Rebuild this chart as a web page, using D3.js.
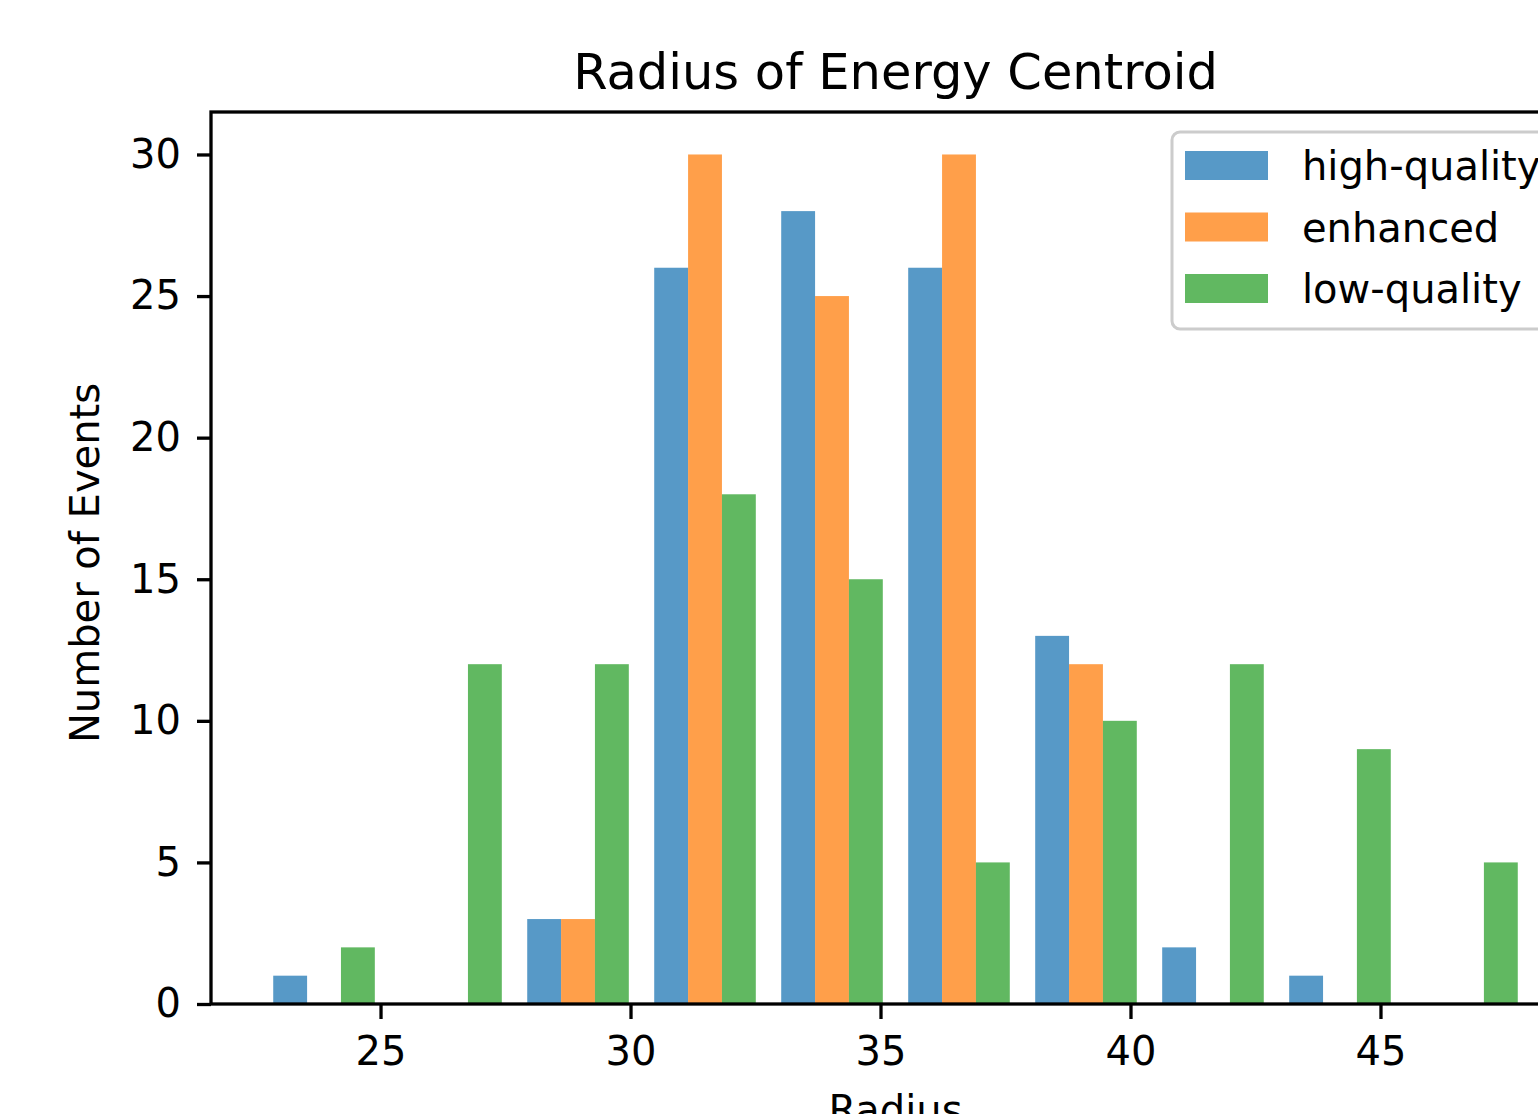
<!DOCTYPE html>
<html lang="en">
<head>
  <meta charset="UTF-8">
  <title>Radius of Energy Centroid</title>
  <script src="https://cdn.jsdelivr.net/npm/d3@7"></script>
  <style>
  body {
    margin: 0;
    padding: 0;
    background: #fff;
    overflow: hidden;
  }
  svg {
    display: block;
    font-family: "DejaVu Sans", sans-serif;
  }
  .axis path, .axis line {
    stroke: #000;
    stroke-width: 3.3px;
  }
  .axis text {
    fill: #000;
    font-family: "DejaVu Sans", sans-serif;
    font-size: 40px;
  }
  </style>
</head>
<body>
  <div id="chart"></div>
<script>
  // histogram bins (Radius) and counts per data set
  var binEdges = [22.6, 25.14, 27.68, 30.22, 32.76, 35.3, 37.84, 40.38, 42.92, 45.46, 48.0];
  var seriesNames = ['high-quality', 'enhanced', 'low-quality'];
  var highQuality = [1, 0, 3, 26, 28, 26, 13, 2, 1, 0];
  var enhanced    = [0, 0, 3, 30, 25, 30, 12, 0, 0, 0];
  var lowQuality  = [2, 12, 12, 18, 15, 5, 10, 12, 9, 5];
  var xTicks = [25, 30, 35, 40, 45];
  var yTicks = [0, 5, 10, 15, 20, 25, 30];

  var width = 1538, height = 1114;
  var mLeft = 211, mTop = 112, mRight = 1580, mBottom = 1004;
  var colors = ['#1f77b4', '#ff7f0e', '#2ca02c'];
  var allCounts = [highQuality, enhanced, lowQuality];

  var svg = d3.select('#chart')
    .append('svg')
    .attr('width', width)
    .attr('height', height);

  // matplotlib-like limits: bar extent plus 5% margin
  var binW = binEdges[1] - binEdges[0];
  var xmin = binEdges[0] + 0.1 * binW, xmax = binEdges[binEdges.length - 1] - 0.1 * binW;
  var pad = (xmax - xmin) * 0.05;
  var xScale = d3.scaleLinear()
    .domain([xmin - pad, xmax + pad])
    .range([mLeft, mRight]);

  var yMax = d3.max(allCounts, function(c){ return d3.max(c); });
  var yScale = d3.scaleLinear()
    .domain([0, yMax * 1.05])
    .range([mBottom, mTop]);

  // bars, 3 side by side in each bin
  var bars = [];
  allCounts.forEach(function(counts, s){
    counts.forEach(function(v, i){
      var w = binEdges[i + 1] - binEdges[i];
      var dw = 0.8 * w / allCounts.length;
      bars.push({ s: s, x0: binEdges[i] + 0.1 * w + s * dw, x1: binEdges[i] + 0.1 * w + (s + 1) * dw, v: v });
    });
  });

  svg.selectAll('.bar')
    .data(bars.filter(function(d){ return d.v > 0; }))
    .enter()
    .append('rect')
    .attr('class', 'bar')
    .attr('x', function(d){ return xScale(d.x0); })
    .attr('width', function(d){ return xScale(d.x1) - xScale(d.x0); })
    .attr('y', function(d){ return yScale(d.v); })
    .attr('height', function(d){ return yScale(0) - yScale(d.v); })
    .attr('fill', function(d){ return colors[d.s]; })
    .attr('fill-opacity', 0.75);

  // axes
  var xAxis = d3.axisBottom(xScale).tickValues(xTicks).tickSize(15).tickPadding(18).tickFormat(d3.format('d'));
  var yAxis = d3.axisLeft(yScale).tickValues(yTicks).tickSize(14).tickPadding(16).tickFormat(d3.format('d'));

  svg.append('g')
    .attr('class', 'axis')
    .attr('transform', 'translate(0,' + mBottom + ')')
    .call(xAxis)
    .call(function(g){ g.select('.domain').remove(); });

  svg.append('g')
    .attr('class', 'axis')
    .attr('transform', 'translate(' + mLeft + ',0)')
    .call(yAxis)
    .call(function(g){ g.select('.domain').remove(); });

  // frame (spines)
  svg.append('rect')
    .attr('x', mLeft)
    .attr('y', mTop)
    .attr('width', mRight - mLeft)
    .attr('height', mBottom - mTop)
    .attr('fill', 'none')
    .attr('stroke', '#000')
    .attr('stroke-width', 3.3);

  // title and labels
  svg.append('text')
    .attr('x', (mLeft + mRight) / 2)
    .attr('y', 89)
    .attr('text-anchor', 'middle')
    .style('font-size', '49.5px')
    .text('Radius of Energy Centroid');

  svg.append('text')
    .attr('x', (mLeft + mRight) / 2)
    .attr('y', 1124)
    .attr('text-anchor', 'middle')
    .style('font-size', '40px')
    .text('Radius');

  svg.append('text')
    .attr('transform', 'translate(99,563) rotate(-90)')
    .attr('text-anchor', 'middle')
    .style('font-size', '40px')
    .text('Number of Events');

  // legend
  var legend = svg.append('g').attr('transform', 'translate(1172,132)');
  legend.append('rect')
    .attr('width', 420)
    .attr('height', 197)
    .attr('rx', 8)
    .attr('fill', '#fff')
    .attr('fill-opacity', 0.8)
    .attr('stroke', '#cccccc')
    .attr('stroke-width', 3);

  var items = legend.selectAll('.item')
    .data(seriesNames)
    .enter()
    .append('g')
    .attr('transform', function(d, i){ return 'translate(0,' + (19 + i * 61.5) + ')'; });

  items.append('rect')
    .attr('x', 13)
    .attr('width', 83)
    .attr('height', 29)
    .attr('fill', function(d, i){ return colors[i]; })
    .attr('fill-opacity', 0.75);

  items.append('text')
    .attr('x', 130)
    .attr('y', 29)
    .style('font-size', '40px')
    .text(function(d){ return d; });
</script>
</body>
</html>
